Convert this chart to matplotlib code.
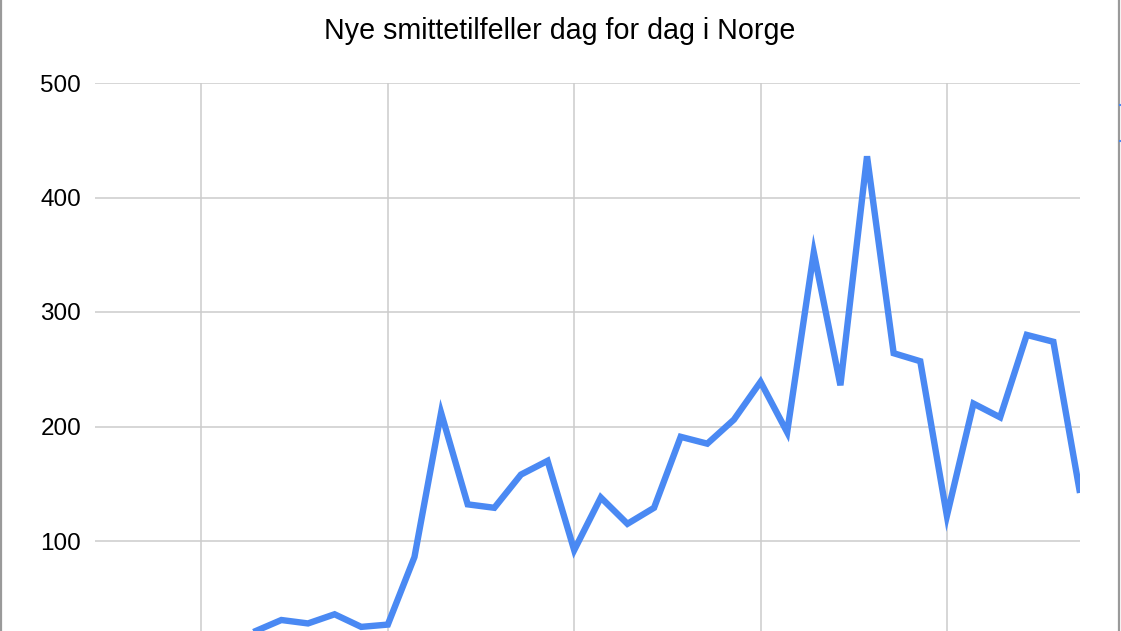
import matplotlib.pyplot as plt
import numpy as np

plt.rcParams['font.family'] = ['Liberation Sans', 'DejaVu Sans']

title = 'Nye smittetilfeller dag for dag i Norge'

# daily new cases, one value per day (first days fall below the visible area)
new_cases = [0, 1, 1, 2, 4, 9, 21, 31, 28, 36, 25, 27, 86, 212, 132, 129,
             158, 170, 92, 138, 115, 129, 191, 185, 206, 239, 195, 352, 236,
             436, 264, 257, 122, 220, 208, 280, 274, 142]
week_ticks = [4, 11, 18, 25, 32]
y_ticks = [100, 200, 300, 400, 500]

days = np.arange(len(new_cases))

fig = plt.figure(figsize=(11.21, 6.31), dpi=100)
# the chart is cropped: the bottom of the plot area lies below the picture
ax = fig.add_axes([95 / 1121, -24.5 / 631, 985 / 1121, 572.5 / 631])

ax.plot(days, new_cases, color='#4a89f3', linewidth=4.6,
        solid_joinstyle='miter', solid_capstyle='butt')

ax.set_xlim(0, len(new_cases) - 1)
ax.set_ylim(0, 500)
ax.set_xticks(week_ticks)
ax.set_xticklabels([])
ax.set_yticks(y_ticks)
ax.tick_params(axis='both', length=0)
ax.tick_params(axis='y', labelsize=17.5, pad=10)
ax.grid(True, color='#cccccc', linewidth=1.1)
ax.set_axisbelow(True)
for s in ax.spines.values():
    s.set_visible(False)

fig.text(560 / 1121, 1 - 31 / 631, title, ha='center', va='center', fontsize=20.6)

# frame edges of the screenshot
fig.add_artist(plt.Line2D([1 / 1121, 1 / 1121], [0, 1], color='#9a9a9a', linewidth=1.6))
fig.add_artist(plt.Line2D([1119 / 1121, 1119 / 1121], [0, 1], color='#9a9a9a', linewidth=1.6))
for yy in [105, 141]:
    fig.add_artist(plt.Line2D([1119.5 / 1121, 1121 / 1121], [1 - yy / 631] * 2,
                              color='#4a89f3', linewidth=1.5))

fig.savefig('out.png', dpi=100)
